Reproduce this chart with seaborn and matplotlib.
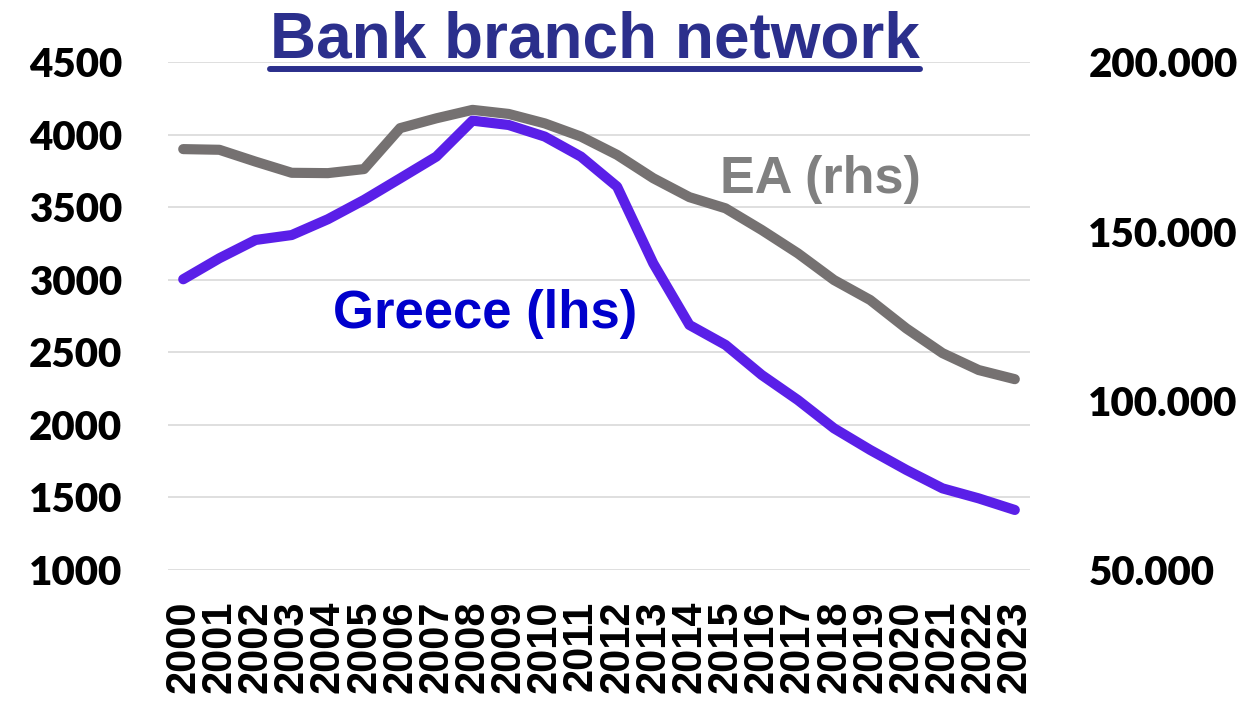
import matplotlib
matplotlib.use("Agg")
import matplotlib.pyplot as plt
from matplotlib.lines import Line2D
import pandas as pd
import seaborn as sns

YEARS = list(range(2000, 2024))
GREECE_BRANCHES = [3005, 3150, 3276, 3310, 3419, 3552, 3701, 3851, 4099, 4069,
                   3989, 3851, 3644, 3115, 2690, 2552, 2345, 2172, 1977, 1828,
                   1690, 1563, 1494, 1414]
EA_BRANCHES = [174400, 174200, 170700, 167400, 167300, 168500, 180600, 183500,
               186000, 184800, 182000, 178100, 172700, 165800, 160200, 156900,
               150500, 143600, 135700, 129800, 121400, 114100, 109100, 106400]
LEFT_TICKS = [1000, 1500, 2000, 2500, 3000, 3500, 4000, 4500]
RIGHT_TICKS = [50000, 100000, 150000, 200000]
RIGHT_LABELS = ["50.000", "100.000", "150.000", "200.000"]

TITLE = "Bank branch network"
GREECE_COLOR = "#5A1FE8"
EA_COLOR = "#757171"


def style_labels(labels, family) -> None:
    for lab in labels:
        lab.set_fontweight("heavy")
        lab.set_color("black")
        lab.set_family([family, "DejaVu Sans"])


def main() -> None:
    sns.set_theme(style="white")
    plt.rcParams["font.family"] = ["Liberation Sans", "DejaVu Sans"]

    df = pd.DataFrame({"year": YEARS, "greece": GREECE_BRANCHES, "ea": EA_BRANCHES})

    fig = plt.figure(figsize=(12.55, 7.07), dpi=100)
    ax = fig.add_axes([0.1339, 0.1938, 0.6868, 0.7178])
    ax_ea = ax.twinx()
    ax_gr = ax.twinx()

    # grid only on the base axes
    ax.set_ylim(LEFT_TICKS[0], LEFT_TICKS[-1])
    ax.set_yticks(LEFT_TICKS)
    ax.yaxis.grid(True, color="#D9D9D9", linewidth=1.2)
    ax.set_xlim(YEARS[0] - 0.42, YEARS[-1] + 0.42)
    ax.set_xticks(YEARS)
    ax.set_xticklabels([str(y) for y in YEARS], rotation=90)
    ax.tick_params(axis="x", length=0, pad=22, labelsize=30)
    ax.tick_params(axis="y", length=0, pad=33, labelsize=29)
    style_labels(ax.get_xticklabels(), "Liberation Sans")
    style_labels(ax.get_yticklabels(), "Lato")

    sns.lineplot(data=df, x="year", y="ea", ax=ax_ea, color=EA_COLOR,
                 linewidth=7.3, solid_capstyle="round", solid_joinstyle="round")
    ax_ea.set_ylim(RIGHT_TICKS[0], RIGHT_TICKS[-1])
    ax_ea.set_yticks(RIGHT_TICKS)
    ax_ea.set_yticklabels(RIGHT_LABELS)
    ax_ea.tick_params(axis="y", length=0, pad=42, labelsize=29)
    style_labels(ax_ea.get_yticklabels(), "Lato")

    sns.lineplot(data=df, x="year", y="greece", ax=ax_gr, color=GREECE_COLOR,
                 linewidth=7.3, solid_capstyle="round", solid_joinstyle="round")
    ax_gr.set_ylim(LEFT_TICKS[0], LEFT_TICKS[-1])
    ax_gr.set_yticks([])

    for a in (ax, ax_ea, ax_gr):
        a.set_xlabel("")
        a.set_ylabel("")
        a.set_xlim(YEARS[0] - 0.42, YEARS[-1] + 0.42)
        for s in a.spines.values():
            s.set_visible(False)
    ax_ea.patch.set_visible(False)
    ax_gr.patch.set_visible(False)

    fig.text(0.474, 0.918, TITLE, ha="center", va="baseline", fontsize=46,
             fontweight="bold", color="#2B2F8C")
    fig.add_artist(Line2D([270 / 1255, 920 / 1255], [0.902, 0.902],
                          color="#2B2F8C", linewidth=4.3))
    fig.text(0.2653, 0.536, "Greece (lhs)", ha="left", va="baseline",
             fontsize=38, fontweight="bold", color="#0000CC")
    fig.text(0.5737, 0.727, "EA (rhs)", ha="left", va="baseline",
             fontsize=37.5, fontweight="bold", color="#808080")

    fig.savefig("out.png", dpi=100, facecolor="white")


if __name__ == "__main__":
    main()
